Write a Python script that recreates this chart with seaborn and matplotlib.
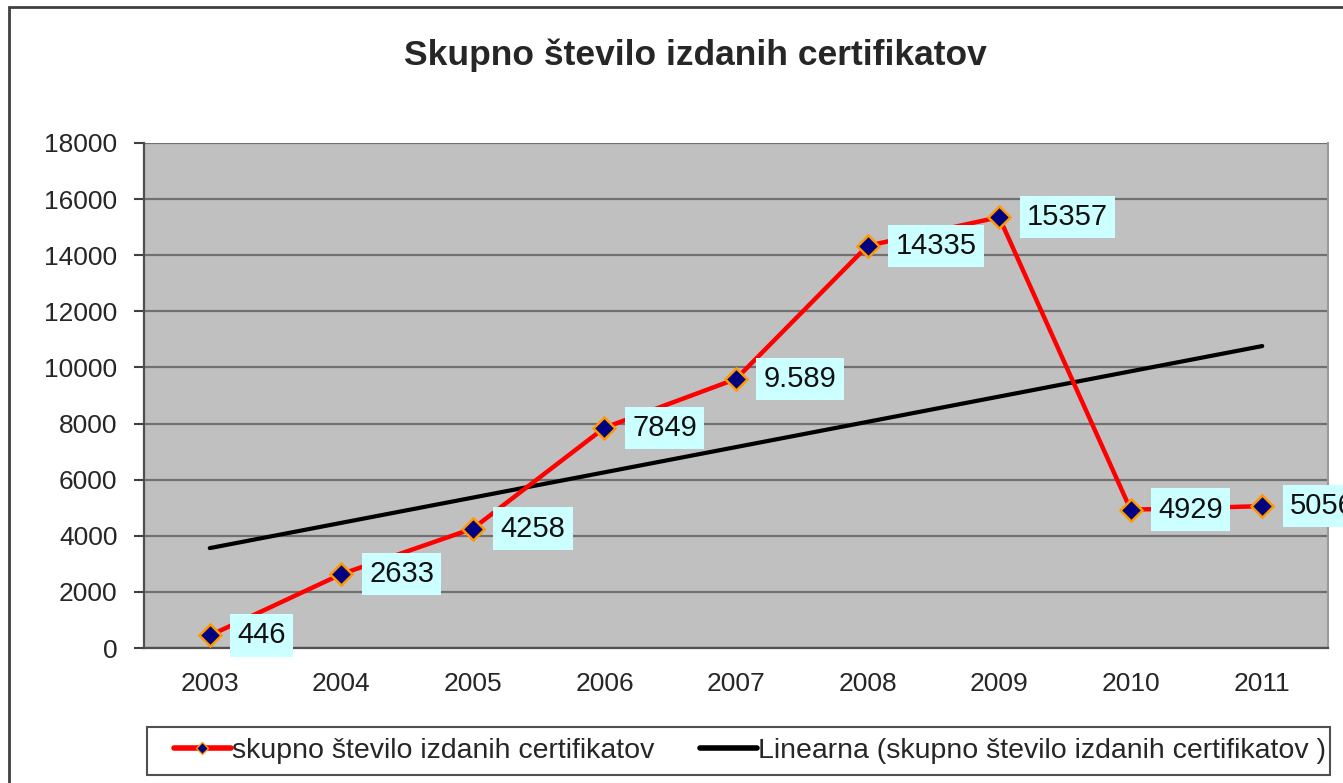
import numpy as np
import pandas as pd
import matplotlib
matplotlib.use("Agg")
import matplotlib.pyplot as plt
from matplotlib.patches import Rectangle
from matplotlib.lines import Line2D
import seaborn as sns

# Podatki
YEARS = [2003, 2004, 2005, 2006, 2007, 2008, 2009, 2010, 2011]
VALUES = [446, 2633, 4258, 7849, 9589, 14335, 15357, 4929, 5056]
LABELS = ["446", "2633", "4258", "7849", "9.589", "14335", "15357", "4929", "5056"]
TITLE = "Skupno število izdanih certifikatov"
SERIES_NAME = "skupno število izdanih certifikatov"
TREND_NAME = "Linearna (skupno število izdanih certifikatov )"

sns.set_theme(style="white")
plt.rcParams["font.family"] = ["Liberation Sans", "DejaVu Sans"]

df = pd.DataFrame({"leto": YEARS, "stevilo": VALUES})

# linearni trend (kot v Excelu)
x = np.arange(1, len(YEARS) + 1)
k, n = np.polyfit(x, VALUES, 1)
df["trend"] = k * x + n

fig = plt.figure(figsize=(13.43, 7.83), dpi=100)
ax = fig.add_axes([144 / 1343, 1 - 648 / 783, (1328 - 144) / 1343, (648 - 143) / 783])
ax.set_facecolor("#C0C0C0")

ax.yaxis.grid(True, color="#707070", linewidth=1.6)
ax.set_axisbelow(True)

sns.lineplot(data=df, x="leto", y="trend", ax=ax, color="black", linewidth=3, zorder=3)
sns.lineplot(data=df, x="leto", y="stevilo", ax=ax, color="#FF0000", linewidth=3.2,
             marker="D", markersize=11, markerfacecolor="#000080",
             markeredgecolor="#FF9900", markeredgewidth=1.8, zorder=4)

# oznake podatkov (5056 je tudi v izvirniku odrezana na desnem robu)
for yr, val, lab in zip(YEARS, VALUES, LABELS):
    ax.annotate(lab, (yr, val), xytext=(20, 0), textcoords="offset points",
                ha="left", va="center", fontsize=21, color="#111111",
                bbox=dict(boxstyle="square,pad=0.25", fc="#CCFFFF", ec="none"),
                zorder=5, annotation_clip=False)

ax.set_xlim(2002.5, 2011.5)
ax.set_ylim(0, 18000)
ax.set_yticks(range(0, 18001, 2000))
ax.set_xticks(YEARS)
ax.set_xticks(np.arange(2002.5, 2011.6, 1), minor=True)
ax.tick_params(axis="x", which="major", length=0, pad=17, labelsize=19)
ax.tick_params(axis="x", which="minor", length=7, width=1.5, color="#404040", direction="out")
ax.tick_params(axis="y", length=7, width=1.5, color="#404040", direction="out",
               pad=12, labelsize=19, left=True)
ax.set_xlabel("")
ax.set_ylabel("")
for side in ["left", "bottom"]:
    ax.spines[side].set_color("#505050")
    ax.spines[side].set_linewidth(1.6)
ax.spines["top"].set_visible(False)
ax.spines["right"].set_color("#9A9A9A")
ax.spines["right"].set_linewidth(1.5)

fig.text(695 / 1343, 1 - 55 / 783, TITLE, ha="center", va="center",
         fontsize=25.5, fontweight="bold")

# okvir grafa
fig.patches.append(Rectangle((9 / 1343, -0.05), 1.2, 1 - 7 / 783 + 0.05,
                             transform=fig.transFigure, fill=False,
                             ec="#404040", lw=2))

# legenda
fig.patches.append(Rectangle((147 / 1343, 1 - 775 / 783), (1330 - 147) / 1343, 48 / 783,
                             transform=fig.transFigure, fill=True, fc="white",
                             ec="#505050", lw=1.5, zorder=1))
handles = [
    Line2D([], [], color="#FF0000", lw=4, marker="D", markersize=6,
           markerfacecolor="#000080", markeredgecolor="#FF9900"),
    Line2D([], [], color="black", lw=4),
]
fig.legend(handles, [SERIES_NAME, TREND_NAME], loc="center left",
           bbox_to_anchor=(148 / 1343, 1 - 751 / 783), ncol=2, frameon=False,
           fontsize=20.5, handlelength=2.0, handletextpad=0.05, columnspacing=1.6)

fig.savefig("out.png", dpi=100, facecolor="white")
